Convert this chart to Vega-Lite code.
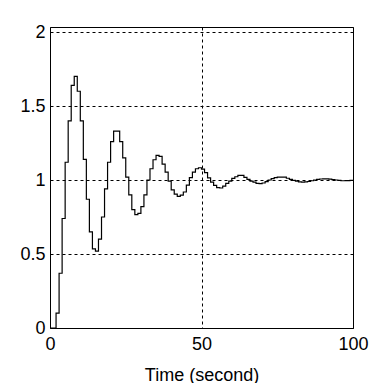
{
  "$schema": "https://vega.github.io/schema/vega-lite/v6.json",
  "width": 303,
  "height": 301,
  "autosize": {"type": "none"},
  "padding": {"left": 50, "top": 27, "right": 22, "bottom": 55},
  "background": "white",
  "config": {
    "view": {"stroke": "black", "strokeWidth": 1},
    "font": "Liberation Sans",
    "axis": {
      "labelFont": "Liberation Sans",
      "titleFont": "Liberation Sans",
      "labelColor": "black",
      "titleColor": "black",
      "labelFontSize": 18,
      "titleFontSize": 18,
      "titleFontWeight": "normal",
      "domain": false,
      "ticks": false,
      "grid": true,
      "gridColor": "black",
      "gridOpacity": 1,
      "gridWidth": 1,
      "gridDash": [3, 3]
    }
  },
  "data": {
    "values": [
      {"t": 0, "y": 0}, {"t": 1, "y": 0}, {"t": 2, "y": 0.10}, {"t": 3, "y": 0.37},
      {"t": 4, "y": 0.74}, {"t": 5, "y": 1.12}, {"t": 6, "y": 1.40}, {"t": 7, "y": 1.64},
      {"t": 8, "y": 1.70}, {"t": 9, "y": 1.60}, {"t": 10, "y": 1.40}, {"t": 11, "y": 1.14},
      {"t": 12, "y": 0.87}, {"t": 13, "y": 0.65}, {"t": 14, "y": 0.535}, {"t": 15, "y": 0.52},
      {"t": 16, "y": 0.60}, {"t": 17, "y": 0.75}, {"t": 18, "y": 0.94}, {"t": 19, "y": 1.12},
      {"t": 20, "y": 1.26}, {"t": 21, "y": 1.33}, {"t": 22, "y": 1.33}, {"t": 23, "y": 1.26},
      {"t": 24, "y": 1.15}, {"t": 25, "y": 1.02}, {"t": 26, "y": 0.90}, {"t": 27, "y": 0.80},
      {"t": 28, "y": 0.766}, {"t": 29, "y": 0.775}, {"t": 30, "y": 0.82}, {"t": 31, "y": 0.90},
      {"t": 32, "y": 1.0}, {"t": 33, "y": 1.076}, {"t": 34, "y": 1.137}, {"t": 35, "y": 1.166},
      {"t": 36, "y": 1.16}, {"t": 37, "y": 1.108}, {"t": 38, "y": 1.054}, {"t": 39, "y": 0.993},
      {"t": 40, "y": 0.934}, {"t": 41, "y": 0.905}, {"t": 42, "y": 0.889}, {"t": 43, "y": 0.898},
      {"t": 44, "y": 0.919}, {"t": 45, "y": 0.965}, {"t": 46, "y": 1.016}, {"t": 47, "y": 1.054},
      {"t": 48, "y": 1.076}, {"t": 49, "y": 1.083}, {"t": 50, "y": 1.074}, {"t": 51, "y": 1.05},
      {"t": 52, "y": 1.015}, {"t": 53, "y": 0.986}, {"t": 54, "y": 0.964}, {"t": 55, "y": 0.948},
      {"t": 56, "y": 0.946}, {"t": 57, "y": 0.959}, {"t": 58, "y": 0.977}, {"t": 59, "y": 0.993},
      {"t": 60, "y": 1.011}, {"t": 61, "y": 1.022}, {"t": 62, "y": 1.031}, {"t": 63, "y": 1.032},
      {"t": 64, "y": 1.018}, {"t": 65, "y": 1.004}, {"t": 66, "y": 0.993}, {"t": 67, "y": 0.986},
      {"t": 68, "y": 0.977}, {"t": 69, "y": 0.975}, {"t": 70, "y": 0.98}, {"t": 71, "y": 0.989},
      {"t": 72, "y": 1.0}, {"t": 73, "y": 1.01}, {"t": 74, "y": 1.016}, {"t": 75, "y": 1.019},
      {"t": 76, "y": 1.02}, {"t": 77, "y": 1.019}, {"t": 78, "y": 1.012}, {"t": 79, "y": 1.005},
      {"t": 80, "y": 0.998}, {"t": 81, "y": 0.992}, {"t": 82, "y": 0.988}, {"t": 83, "y": 0.986},
      {"t": 84, "y": 0.987}, {"t": 85, "y": 0.99}, {"t": 86, "y": 0.995}, {"t": 87, "y": 1.0},
      {"t": 88, "y": 1.004}, {"t": 89, "y": 1.007}, {"t": 90, "y": 1.008}, {"t": 91, "y": 1.008},
      {"t": 92, "y": 1.006}, {"t": 93, "y": 1.003}, {"t": 94, "y": 1.0}, {"t": 95, "y": 0.997},
      {"t": 96, "y": 0.995}, {"t": 97, "y": 0.995}, {"t": 98, "y": 0.996}, {"t": 99, "y": 0.997},
      {"t": 100, "y": 0.998}
    ]
  },
  "mark": {"type": "line", "interpolate": "step-after", "color": "black", "strokeWidth": 1.2, "clip": true},
  "encoding": {
    "x": {
      "field": "t", "type": "quantitative",
      "scale": {"domain": [0, 100], "nice": false, "zero": false},
      "axis": {"values": [0, 50, 100], "title": "Time (second)", "labelPadding": 7, "titlePadding": 13, "labelFlush": false}
    },
    "y": {
      "field": "y", "type": "quantitative",
      "scale": {"domain": [0, 2.034], "nice": false},
      "axis": {"values": [0, 0.5, 1, 1.5, 2], "format": "~g", "title": null, "labelPadding": 5, "labelFlush": false}
    }
  }
}
